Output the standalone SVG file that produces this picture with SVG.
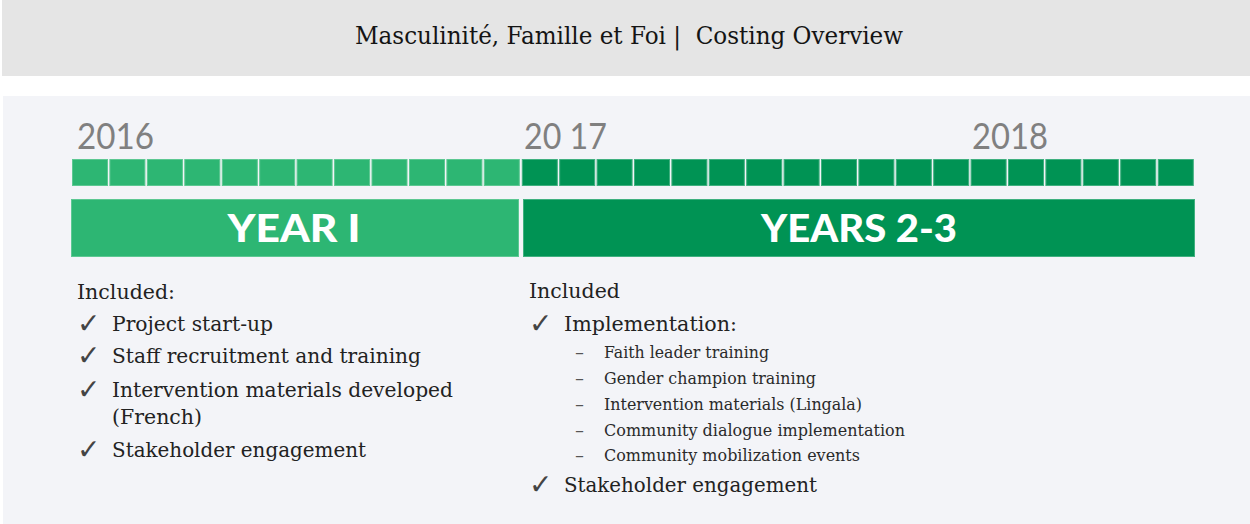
<svg xmlns="http://www.w3.org/2000/svg" width="1250" height="524" viewBox="0 0 1250 524">
  <style>
    .title { font-family: "DejaVu Serif", "Liberation Serif", serif; font-size: 24px; fill: #141414; }
    .body { font-family: "DejaVu Serif", "Liberation Serif", serif; font-size: 21px; fill: #222222; }
    .sub { font-family: "DejaVu Serif", "Liberation Serif", serif; font-size: 17px; fill: #2a2a2a; }
    .check { font-family: "DejaVu Sans", sans-serif; font-size: 28px; fill: #444444; }
    .dash { font-family: "DejaVu Sans", sans-serif; font-size: 18px; fill: #555555; }
    .year { font-family: Lato, "Open Sans", sans-serif; font-size: 36px; fill: #808080; }
    .banner-text { font-family: Lato, "Open Sans", sans-serif; font-size: 37px; font-weight: 900; fill: #ffffff; text-anchor: middle; }
    .sq1 { fill: #2db673; stroke: #5cc892; stroke-width: 1; }
    .sq2 { fill: #009354; stroke: #3fb07f; stroke-width: 1; }
  </style>

  <!-- page background -->
  <rect x="0" y="0" width="1250" height="524" fill="#ffffff"/>

  <!-- header band -->
  <g id="header">
    <rect x="2" y="0" width="1248" height="76" fill="#e5e5e5"/>
    <text class="title" x="355" y="44" textLength="548" lengthAdjust="spacingAndGlyphs" xml:space="preserve">Masculinité, Famille et Foi |  Costing Overview</text>
  </g>

  <!-- content panel -->
  <rect x="3" y="96" width="1247" height="428" fill="#f3f4f8"/>

  <!-- year labels -->
  <g id="years">
    <text class="year" x="77" y="149" textLength="77" lengthAdjust="spacingAndGlyphs">2016</text>
    <text class="year" x="524" y="149" textLength="83" lengthAdjust="spacingAndGlyphs">20 17</text>
    <text class="year" x="972" y="149" textLength="76" lengthAdjust="spacingAndGlyphs">2018</text>
  </g>

  <!-- monthly squares: 12 in year 1, 18 in years 2-3 -->
  <g id="months">
    <rect class="sq1" x="72.5" y="159.5" width="35" height="26"/>
    <rect class="sq1" x="109.9" y="159.5" width="35" height="26"/>
    <rect class="sq1" x="147.4" y="159.5" width="35" height="26"/>
    <rect class="sq1" x="184.8" y="159.5" width="35" height="26"/>
    <rect class="sq1" x="222.3" y="159.5" width="35" height="26"/>
    <rect class="sq1" x="259.7" y="159.5" width="35" height="26"/>
    <rect class="sq1" x="297.1" y="159.5" width="35" height="26"/>
    <rect class="sq1" x="334.6" y="159.5" width="35" height="26"/>
    <rect class="sq1" x="372.0" y="159.5" width="35" height="26"/>
    <rect class="sq1" x="409.5" y="159.5" width="35" height="26"/>
    <rect class="sq1" x="446.9" y="159.5" width="35" height="26"/>
    <rect class="sq1" x="484.3" y="159.5" width="35" height="26"/>
    <rect class="sq2" x="522.3" y="159.5" width="35" height="26"/>
    <rect class="sq2" x="559.7" y="159.5" width="35" height="26"/>
    <rect class="sq2" x="597.1" y="159.5" width="35" height="26"/>
    <rect class="sq2" x="634.5" y="159.5" width="35" height="26"/>
    <rect class="sq2" x="671.9" y="159.5" width="35" height="26"/>
    <rect class="sq2" x="709.3" y="159.5" width="35" height="26"/>
    <rect class="sq2" x="746.7" y="159.5" width="35" height="26"/>
    <rect class="sq2" x="784.1" y="159.5" width="35" height="26"/>
    <rect class="sq2" x="821.5" y="159.5" width="35" height="26"/>
    <rect class="sq2" x="858.9" y="159.5" width="35" height="26"/>
    <rect class="sq2" x="896.3" y="159.5" width="35" height="26"/>
    <rect class="sq2" x="933.7" y="159.5" width="35" height="26"/>
    <rect class="sq2" x="971.1" y="159.5" width="35" height="26"/>
    <rect class="sq2" x="1008.5" y="159.5" width="35" height="26"/>
    <rect class="sq2" x="1045.9" y="159.5" width="35" height="26"/>
    <rect class="sq2" x="1083.3" y="159.5" width="35" height="26"/>
    <rect class="sq2" x="1120.7" y="159.5" width="35" height="26"/>
    <rect class="sq2" x="1158.3" y="159.5" width="35" height="26"/>
  </g>

  <!-- period banners -->
  <g id="year1">
    <rect class="sq1" x="71.5" y="199.5" width="447" height="57"/>
    <text class="banner-text" x="294" y="242" textLength="133" lengthAdjust="spacingAndGlyphs">YEAR I</text>
  </g>
  <g id="years23">
    <rect class="sq2" x="523.5" y="199.5" width="671" height="57"/>
    <text class="banner-text" x="859" y="242" textLength="196" lengthAdjust="spacingAndGlyphs">YEARS 2-3</text>
  </g>

  <!-- year 1 scope -->
  <g id="list-year1">
    <text class="body" x="77" y="299" textLength="98" lengthAdjust="spacingAndGlyphs">Included:</text>
    <text class="check" x="77" y="333">✓</text>
    <text class="body" x="112" y="331" textLength="161" lengthAdjust="spacingAndGlyphs">Project start-up</text>
    <text class="check" x="77" y="365">✓</text>
    <text class="body" x="112" y="363" textLength="309" lengthAdjust="spacingAndGlyphs">Staff recruitment and training</text>
    <text class="check" x="77" y="399">✓</text>
    <text class="body" x="112" y="397" textLength="341" lengthAdjust="spacingAndGlyphs">Intervention materials developed</text>
    <text class="body" x="112" y="424" textLength="90" lengthAdjust="spacingAndGlyphs">(French)</text>
    <text class="check" x="77" y="459">✓</text>
    <text class="body" x="112" y="457" textLength="254" lengthAdjust="spacingAndGlyphs">Stakeholder engagement</text>
  </g>

  <!-- years 2-3 scope -->
  <g id="list-years23">
    <text class="body" x="529" y="298" textLength="91" lengthAdjust="spacingAndGlyphs">Included</text>
    <text class="check" x="529" y="333">✓</text>
    <text class="body" x="564" y="331" textLength="173" lengthAdjust="spacingAndGlyphs">Implementation:</text>
    <text class="dash" x="575" y="358">–</text>
    <text class="sub" x="604" y="358" textLength="165" lengthAdjust="spacingAndGlyphs">Faith leader training</text>
    <text class="dash" x="575" y="384">–</text>
    <text class="sub" x="604" y="384" textLength="212" lengthAdjust="spacingAndGlyphs">Gender champion training</text>
    <text class="dash" x="575" y="410">–</text>
    <text class="sub" x="604" y="410" textLength="258" lengthAdjust="spacingAndGlyphs">Intervention materials (Lingala)</text>
    <text class="dash" x="575" y="436">–</text>
    <text class="sub" x="604" y="436" textLength="301" lengthAdjust="spacingAndGlyphs">Community dialogue implementation</text>
    <text class="dash" x="575" y="461">–</text>
    <text class="sub" x="604" y="461" textLength="256" lengthAdjust="spacingAndGlyphs">Community mobilization events</text>
    <text class="check" x="529" y="494">✓</text>
    <text class="body" x="564" y="492" textLength="253" lengthAdjust="spacingAndGlyphs">Stakeholder engagement</text>
  </g>
</svg>
